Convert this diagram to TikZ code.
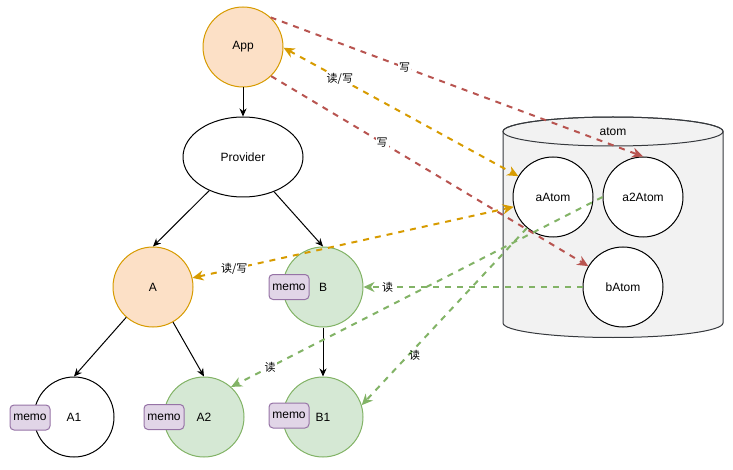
\documentclass[tikz,border=0pt]{standalone}
\usepackage{fontspec}
\setmainfont{Liberation Sans}
\newfontfamily\cjk{Noto Sans CJK SC}
\usetikzlibrary{arrows.meta,shapes.geometric}
\definecolor{peachfill}{HTML}{FCE0C6}
\definecolor{peachline}{HTML}{D79B00}
\definecolor{greenfill}{HTML}{D5E8D4}
\definecolor{greenline}{HTML}{82B366}
\definecolor{purpfill}{HTML}{E1D5E7}
\definecolor{purpline}{HTML}{9673A6}
\definecolor{redline}{HTML}{B85450}
\definecolor{cylfill}{HTML}{F2F2F2}
\definecolor{cylline}{HTML}{36393D}
\tikzset{
  circ/.style={circle, draw=black, line width=1pt, fill=white, minimum size=80pt, inner sep=0pt},
  peach/.style={circ, draw=peachline, fill=peachfill},
  greenc/.style={circ, draw=greenline, fill=greenfill},
  memo/.style={draw=purpline, fill=purpfill, line width=1pt, rounded corners=4pt, minimum width=40pt, minimum height=25pt, inner sep=0pt},
  blk/.style={draw=black, line width=1pt, -{Stealth[length=8pt,width=7pt,inset=2.5pt]}},
  dsh/.style={line width=2pt, dash pattern=on 6pt off 6pt},
  redd/.style={dsh, color=redline, -{Stealth[length=11pt,width=10pt,inset=3.5pt]}},
  orgd/.style={dsh, color=peachline, {Stealth[length=11pt,width=10pt,inset=3.5pt]}-{Stealth[length=11pt,width=10pt,inset=3.5pt]}},
  grnd/.style={dsh, color=greenline, -{Stealth[length=11pt,width=10pt,inset=3.5pt]}},
  lbl/.style={fill=white, inner sep=1pt, text=black, font=\cjk\fontsize{11}{13}\selectfont},
}
\begin{document}
\begin{tikzpicture}[x=1pt, y=-1pt, font=\fontsize{12}{14}\selectfont]
\useasboundingbox (0,0) rectangle (733,470);
% cylinder
\path[draw=cylline, fill=cylfill, line width=1pt]
  (503,131.5) -- (503,323) arc[start angle=180, end angle=360, x radius=110pt, y radius=14.5pt]
  -- (723,131.5) arc[start angle=0, end angle=180, x radius=110pt, y radius=14.5pt] -- cycle;
\draw[cylline, line width=1pt] (613,131.5) ellipse [x radius=110pt, y radius=14.5pt];
\node (atomlbl) at (613,131.5) {atom};
% nodes
\node[peach] (app) at (243,47) {App};
\node[ellipse, draw=black, line width=1pt, fill=white, minimum width=120pt, minimum height=80pt, inner sep=0pt] (prov) at (243,157) {Provider};
\node[peach] (a) at (153,287) {A};
\node[greenc] (b) at (323,287) {B};
\node[circ] (a1) at (74,417) {A1};
\node[greenc] (a2) at (204,417) {A2};
\node[greenc] (b1) at (323,417) {B1};
\node[memo] (mb) at (289,287) {memo};
\node[memo] (ma1) at (30,417.5) {memo};
\node[memo] (ma2) at (164,417) {memo};
\node[memo] (mb1) at (289,415.5) {memo};
\node[circ] (aatom) at (553,197) {aAtom};
\node[circ] (a2atom) at (643,197) {a2Atom};
\node[circ] (batom) at (623,287) {bAtom};
% solid edges
\draw[blk] (app.south) -- (prov.north);
\draw[blk] (prov) -- (a.north);
\draw[blk] (prov) -- (b.north);
\draw[blk] (a) -- (a1.north);
\draw[blk] (a) -- (a2.north);
\draw[blk] (b.south) -- (b1.north);
% dashed edges
\draw[redd] (app.47) -- node[lbl, pos=0.36] (l1) {写} (a2atom.90);
\draw[redd] (app.-46) -- node[lbl, pos=0.35] (l2) {写} (batom.149);
\draw[orgd] (app.-1) -- node[lbl, pos=0.24] (l3) {读/写} (aatom.149);
\draw[orgd] (a.13) -- node[lbl, pos=0.13] (l4) {读/写} (aatom.194);
\draw[grnd] (batom.180) -- node[lbl, pos=0.89] (l5) {读} (b.0);
\draw[grnd] (a2atom.180) -- node[lbl, pos=0.895] (l6) {读} (a2.48);
\draw[grnd] (aatom.230) -- node[lbl, fill=none, pos=0.68, yshift=-6.5pt] (l7) {读} (b1.17);
\end{tikzpicture}
\end{document}
